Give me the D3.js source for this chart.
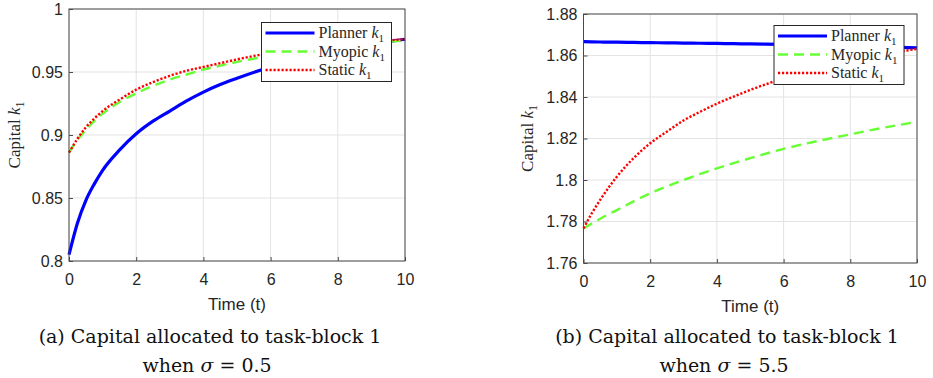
<!DOCTYPE html>
<html>
<head>
<meta charset="utf-8">
<script src="https://cdn.jsdelivr.net/npm/d3@7"></script>
<style>
  body { margin: 0; background: #fff; }
  svg { display: block; }
</style>
</head>
<body>
<div id="chart"></div>
<script>
// time points shared by all series
const times = [0, 0.25, 0.5, 0.75, 1, 1.5, 2, 2.5, 3, 3.5, 4, 4.5, 5, 6, 7, 8, 9, 10];

// (a) sigma = 0.5
const plannerA = [0.805, 0.830, 0.848, 0.861, 0.872, 0.888, 0.901, 0.911, 0.919, 0.927, 0.934, 0.940, 0.945, 0.954, 0.961, 0.967, 0.972, 0.976];
const myopicA  = [0.886, 0.896, 0.904, 0.911, 0.917, 0.926, 0.933, 0.939, 0.944, 0.948, 0.952, 0.955, 0.958, 0.963, 0.967, 0.970, 0.973, 0.975];
const staticA  = [0.886, 0.897, 0.906, 0.913, 0.919, 0.928, 0.936, 0.942, 0.947, 0.951, 0.954, 0.957, 0.960, 0.965, 0.968, 0.971, 0.974, 0.976];

// (b) sigma = 5.5
const plannerB = [1.8667, 1.8666, 1.8665, 1.8664, 1.8664, 1.8663, 1.8662, 1.8661, 1.8660, 1.8659, 1.8658, 1.8657, 1.8656, 1.8654, 1.8651, 1.8647, 1.8642, 1.8637];
const myopicB  = [1.7767, 1.7790, 1.7813, 1.7835, 1.7855, 1.7897, 1.7936, 1.7969, 1.8000, 1.8029, 1.8056, 1.8081, 1.8105, 1.8150, 1.8187, 1.8220, 1.8252, 1.8280];
const staticB  = [1.7767, 1.7840, 1.7904, 1.7963, 1.8016, 1.8105, 1.8177, 1.8233, 1.8287, 1.8329, 1.8368, 1.8402, 1.8434, 1.8490, 1.8537, 1.8574, 1.8605, 1.8632];

const xTicks = [0, 2, 4, 6, 8, 10];
const yTicksA = [0.8, 0.85, 0.9, 0.95, 1];
const yTicksB = [1.76, 1.78, 1.8, 1.82, 1.84, 1.86, 1.88];
const seriesNames = ["Planner", "Myopic", "Static"];

const sansFont = "'Liberation Sans', Arial, Helvetica, sans-serif";
const serifFont = "'Liberation Serif', 'Times New Roman', serif";
const capFont = "'DejaVu Serif', serif";

const styles = {
  Planner: { color: "#0000ff", width: 3.2, dash: null },
  Myopic:  { color: "#66ff33", width: 2.4, dash: "10,6" },
  Static:  { color: "#ff0000", width: 2.4, dash: "2.2,1.8" }
};

const svg = d3.select("#chart").append("svg")
  .attr("width", 933)
  .attr("height", 378);

svg.append("rect").attr("width", 933).attr("height", 378).attr("fill", "#fff");

function drawPanel(cfg) {
  const x = d3.scaleLinear().domain([0, 10]).range([cfg.left, cfg.right]);
  const y = d3.scaleLinear().domain(cfg.yDomain).range([cfg.bottom, cfg.top]);
  const g = svg.append("g");

  // grid
  g.append("g")
    .selectAll("line")
    .data(xTicks)
    .join("line")
    .attr("x1", d => x(d)).attr("x2", d => x(d))
    .attr("y1", cfg.top).attr("y2", cfg.bottom)
    .attr("stroke", "#e3e3e3").attr("stroke-width", 1);
  g.append("g")
    .selectAll("line")
    .data(cfg.yTicks)
    .join("line")
    .attr("x1", cfg.left).attr("x2", cfg.right)
    .attr("y1", d => y(d)).attr("y2", d => y(d))
    .attr("stroke", "#e3e3e3").attr("stroke-width", 1);

  // axes
  const xAxis = d3.axisBottom(x).tickValues(xTicks).tickSize(-4).tickPadding(10).tickFormat(d3.format("d"));
  const yAxis = d3.axisLeft(y).tickValues(cfg.yTicks).tickSize(-4).tickPadding(6).tickFormat(d => String(d));

  const gx = g.append("g").attr("transform", `translate(0,${cfg.bottom})`).call(xAxis);
  const gy = g.append("g").attr("transform", `translate(${cfg.left},0)`).call(yAxis);
  [gx, gy].forEach(a => {
    a.select(".domain").remove();
    a.attr("font-family", sansFont).attr("font-size", 16);
    a.selectAll(".tick line").attr("stroke", "#4a4a4a");
    a.selectAll(".tick text").attr("fill", "#262626");
  });
  gx.selectAll(".tick text").attr("dy", "0.85em");

  // series
  const line = d3.line()
    .x((d, i) => x(times[i]))
    .y(d => y(d))
    .curve(d3.curveMonotoneX);

  const data = [
    { name: "Planner", values: cfg.planner },
    { name: "Myopic", values: cfg.myopic },
    { name: "Static", values: cfg.stat }
  ];

  g.append("g")
    .selectAll("path")
    .data(data)
    .join("path")
    .attr("d", d => line(d.values))
    .attr("fill", "none")
    .attr("stroke", d => styles[d.name].color)
    .attr("stroke-width", d => styles[d.name].width)
    .attr("stroke-dasharray", d => styles[d.name].dash);

  // box
  g.append("rect")
    .attr("x", cfg.left).attr("y", cfg.top)
    .attr("width", cfg.right - cfg.left).attr("height", cfg.bottom - cfg.top)
    .attr("fill", "none").attr("stroke", "#4a4a4a").attr("stroke-width", 1);

  // axis labels
  g.append("text")
    .attr("x", (cfg.left + cfg.right) / 2).attr("y", cfg.bottom + 49)
    .attr("text-anchor", "middle")
    .attr("font-family", sansFont)
    .attr("font-size", 17).attr("fill", "#262626")
    .text("Time (t)");

  const yl = g.append("text")
    .attr("transform", `translate(${cfg.ylabelX},${(cfg.top + cfg.bottom) / 2}) rotate(-90)`)
    .attr("text-anchor", "middle")
    .attr("font-family", serifFont)
    .attr("font-size", 17).attr("fill", "#262626");
  yl.append("tspan").text("Capital ");
  yl.append("tspan").attr("font-style", "italic").text("k");
  yl.append("tspan").attr("font-size", 12).attr("dy", 4).text("1");

  // legend
  const lg = g.append("g").attr("transform", `translate(${cfg.legX},${cfg.legY})`);
  lg.append("rect")
    .attr("width", 130).attr("height", 59)
    .attr("fill", "#fff").attr("stroke", "#262626").attr("stroke-width", 1);
  const rows = lg.selectAll("g.row")
    .data(seriesNames)
    .join("g")
    .attr("transform", (d, i) => `translate(0,${10.5 + i * 18.5})`);
  rows.append("line")
    .attr("x1", 4).attr("x2", 53)
    .attr("stroke", d => styles[d].color)
    .attr("stroke-width", d => styles[d].width)
    .attr("stroke-dasharray", d => styles[d].dash);
  const lt = rows.append("text")
    .attr("x", 57).attr("y", 5)
    .attr("font-family", serifFont)
    .attr("font-size", 16).attr("fill", "#262626");
  lt.append("tspan").text(d => d + " ");
  lt.append("tspan").attr("font-style", "italic").text("k");
  lt.append("tspan").attr("font-size", 11).attr("dy", 4).text("1");

  // caption
  const cap = g.append("text")
    .attr("text-anchor", "middle")
    .attr("font-family", capFont)
    .attr("font-size", 19).attr("fill", "#111");
  cap.append("tspan").attr("x", cfg.capX).attr("y", 343).text(cfg.caption1);
  const c2 = cap.append("tspan").attr("x", cfg.capX - 3).attr("y", 372);
  c2.append("tspan").text("when ");
  c2.append("tspan").attr("font-style", "italic").text("σ");
  c2.append("tspan").text(" = " + cfg.sigma);
}

drawPanel({
  left: 69, right: 405, top: 9, bottom: 261,
  yDomain: [0.8, 1], yTicks: yTicksA,
  planner: plannerA, myopic: myopicA, stat: staticA,
  ylabelX: 20, legX: 261.5, legY: 22.5,
  capX: 210, caption1: "(a) Capital allocated to task-block 1", sigma: "0.5"
});

drawPanel({
  left: 583.5, right: 917, top: 14, bottom: 263,
  yDomain: [1.76, 1.88], yTicks: yTicksB,
  planner: plannerB, myopic: myopicB, stat: staticB,
  ylabelX: 533, legX: 774, legY: 25.5,
  capX: 727, caption1: "(b) Capital allocated to task-block 1", sigma: "5.5"
});
</script>
</body>
</html>
